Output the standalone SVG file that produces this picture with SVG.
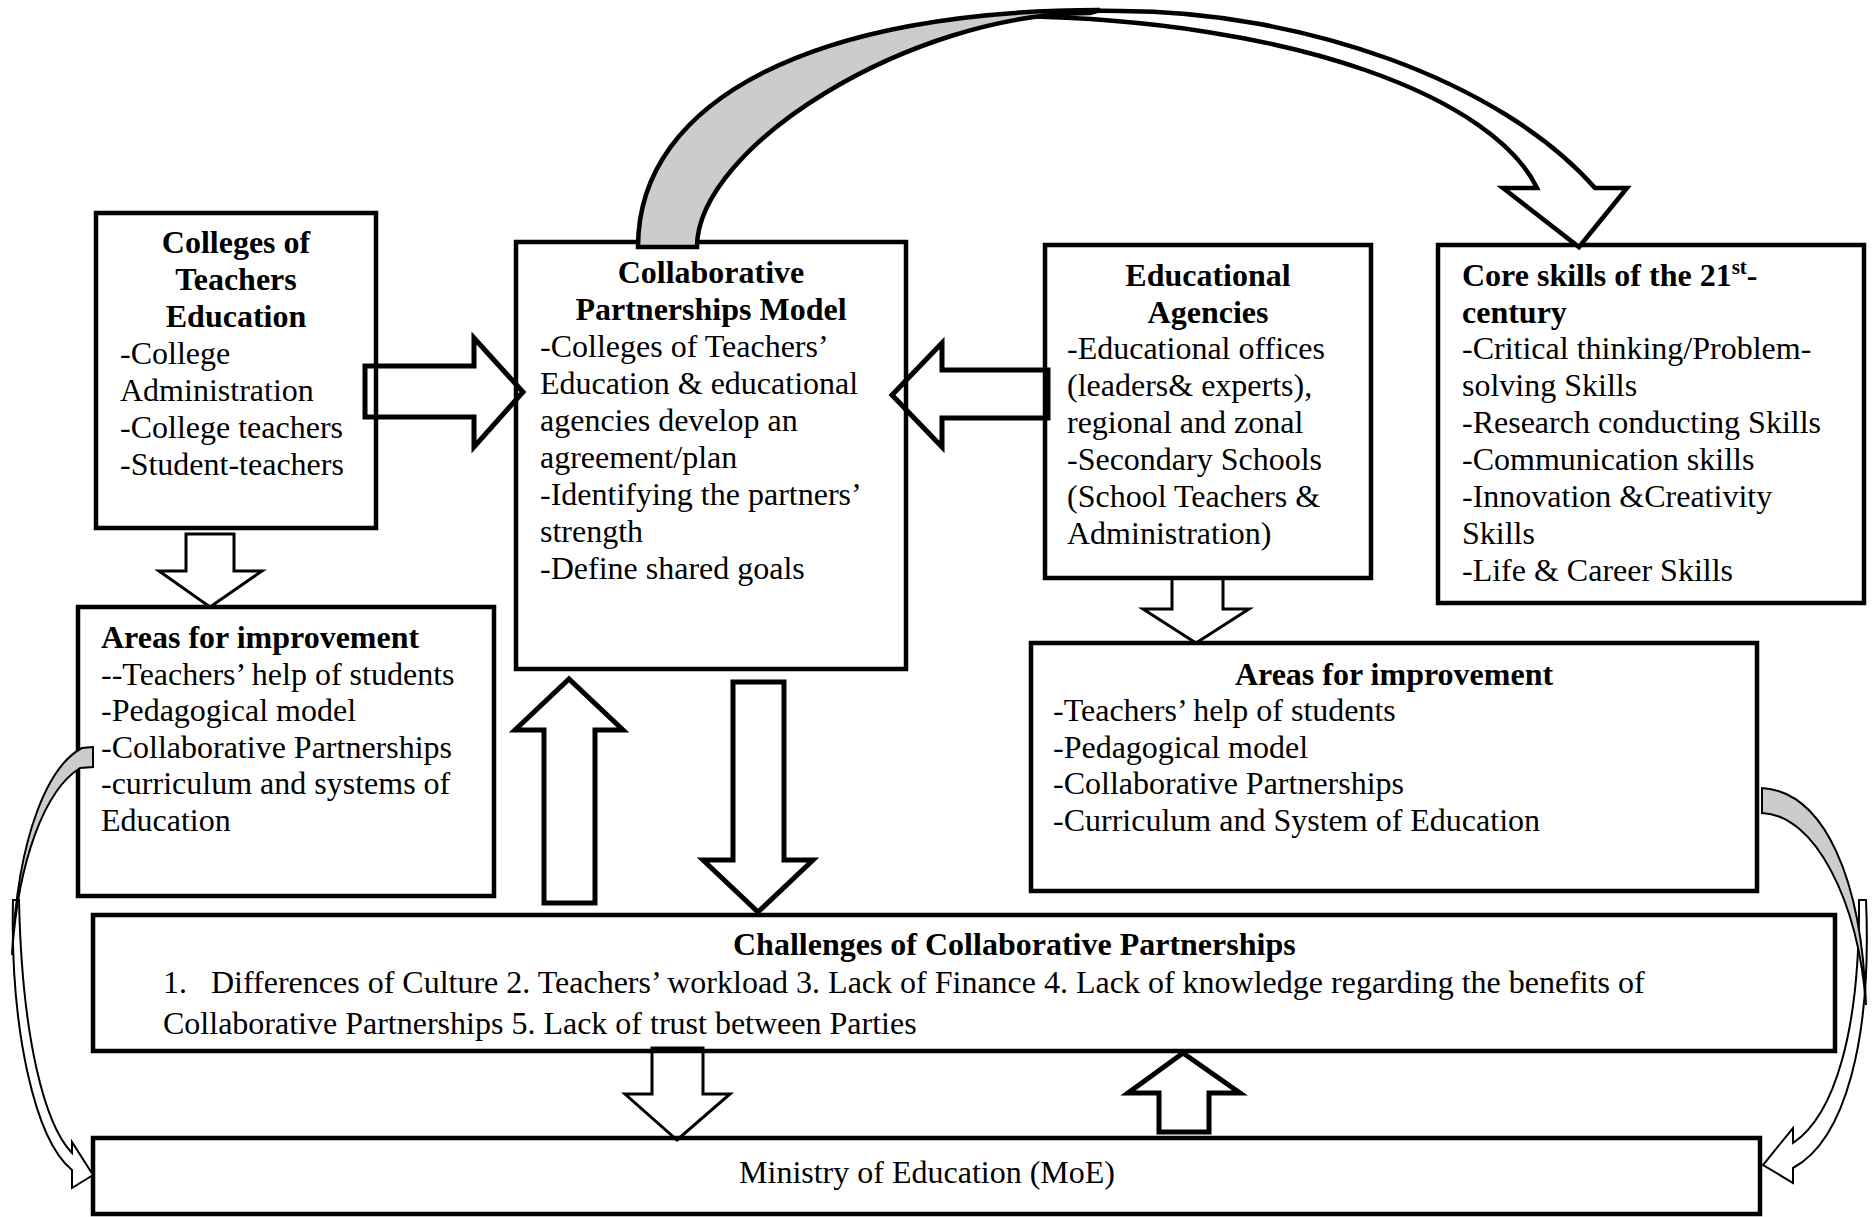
<svg xmlns="http://www.w3.org/2000/svg" width="1873" height="1217" viewBox="0 0 1873 1217">
<style>
.box{fill:#fff;stroke:#000;stroke-width:4.5}
.arr{fill:none;stroke:#000;stroke-width:5;stroke-linejoin:miter}
.arr2{fill:none;stroke:#000;stroke-width:3;stroke-linejoin:miter}
.curv{stroke:#000;stroke-width:4.5;stroke-linejoin:miter}
.thin{stroke:#000;stroke-width:2;stroke-linejoin:miter}
.g{fill:#cccccc}
.w{fill:#fff}
text{font-family:"Liberation Serif","Times New Roman",serif;font-size:32px;fill:#000}
.b{font-weight:bold}
.c{text-anchor:middle}
</style>
<rect width="1873" height="1217" fill="#fff"/>

<g id="node-colleges">
<rect class="box" x="96" y="213" width="280" height="315"/>
<text class="b c" x="236" y="253">Colleges of</text>
<text class="b c" x="236" y="290">Teachers</text>
<text class="b c" x="236" y="327">Education</text>
<text x="120" y="364">-College</text>
<text x="120" y="401">Administration</text>
<text x="120" y="438">-College teachers</text>
<text x="120" y="475">-Student-teachers</text>
</g>

<g id="node-model">
<rect class="box" x="516" y="242" width="390" height="427"/>
<text class="b c" x="711" y="283">Collaborative</text>
<text class="b c" x="711" y="320">Partnerships Model</text>
<text x="540" y="357">-Colleges of Teachers’</text>
<text x="540" y="394">Education &amp; educational</text>
<text x="540" y="431">agencies develop an</text>
<text x="540" y="468">agreement/plan</text>
<text x="540" y="505">-Identifying the partners’</text>
<text x="540" y="542">strength</text>
<text x="540" y="579">-Define shared goals</text>
</g>

<g id="node-agencies">
<rect class="box" x="1045" y="245" width="326" height="333"/>
<text class="b c" x="1208" y="286">Educational</text>
<text class="b c" x="1208" y="323">Agencies</text>
<text x="1067" y="359">-Educational offices</text>
<text x="1067" y="396">(leaders&amp; experts),</text>
<text x="1067" y="433">regional and zonal</text>
<text x="1067" y="470">-Secondary Schools</text>
<text x="1067" y="507">(School Teachers &amp;</text>
<text x="1067" y="544">Administration)</text>
</g>

<g id="node-core">
<rect class="box" x="1438" y="245" width="426" height="358"/>
<text class="b" x="1462" y="286">Core skills of the 21<tspan dy="-12" font-size="21">st</tspan><tspan dy="12">-</tspan></text>
<text class="b" x="1462" y="323">century</text>
<text x="1462" y="359">-Critical thinking/Problem-</text>
<text x="1462" y="396">solving Skills</text>
<text x="1462" y="433">-Research conducting Skills</text>
<text x="1462" y="470">-Communication skills</text>
<text x="1462" y="507">-Innovation &amp;Creativity</text>
<text x="1462" y="544">Skills</text>
<text x="1462" y="581">-Life &amp; Career Skills</text>
</g>

<g id="node-areas-left">
<rect class="box" x="78" y="607" width="416" height="289"/>
<text class="b" x="101" y="648">Areas for improvement</text>
<text x="101" y="684.5">--Teachers’ help of students</text>
<text x="101" y="721">-Pedagogical model</text>
<text x="101" y="757.5">-Collaborative Partnerships</text>
<text x="101" y="794">-curriculum and systems of</text>
<text x="101" y="830.5">Education</text>
</g>

<g id="node-areas-right">
<rect class="box" x="1031" y="643" width="726" height="248"/>
<text class="b c" x="1394" y="685">Areas for improvement</text>
<text x="1053" y="721">-Teachers’ help of students</text>
<text x="1053" y="757.5">-Pedagogical model</text>
<text x="1053" y="794">-Collaborative Partnerships</text>
<text x="1053" y="830.5">-Curriculum and System of Education</text>
</g>

<g id="node-challenges">
<rect class="box" x="93" y="915" width="1742" height="136"/>
<text class="b" x="733" y="955">Challenges of Collaborative Partnerships</text>
<text x="163" y="993">1.</text>
<text x="211" y="993">Differences of Culture 2. Teachers’ workload 3. Lack of Finance 4. Lack of knowledge regarding the benefits of</text>
<text x="163" y="1034">Collaborative Partnerships 5. Lack of trust between Parties</text>
</g>

<g id="node-moe">
<rect class="box" x="93" y="1138" width="1667" height="76"/>
<text class="c" x="927" y="1183">Ministry of Education (MoE)</text>
</g>

<g id="connectors">
<!-- top curved arrow: model -> core skills -->
<path class="curv w" d="M1010,16 Q1060,10 1120,11 C1300,11 1500,80 1595,188 L1627,188 L1579,247 L1503,188 L1537,188 C1495,100 1300,20 1010,16 Z"/>
<path class="curv g" d="M638,247 C638,97 820,10 1100,10 L1090,13 C910,13 697,147 697,247 Z"/>

<!-- block arrows -->
<path class="arr" d="M365,366 L474,366 L474,338 L523,392 L474,447 L474,417 L365,417 Z"/>
<path class="arr" d="M1048,370 L942,370 L942,343 L892,395 L942,447 L942,418 L1048,418 Z"/>
<path class="arr2" d="M186,534 L234,534 L234,571 L262,571 L210,607 L159,571 L186,571 Z"/>
<path class="arr2" d="M1172,578 L1223,578 L1223,609 L1249,609 L1196,643 L1143,609 L1172,609 Z"/>
<path class="arr" d="M544,903 L544,730 L515,730 L569,679 L623,730 L595,730 L595,903 Z"/>
<path class="arr" d="M733,682 L784,682 L784,860 L813,860 L758,912 L703,860 L733,860 Z"/>
<path class="arr2" d="M652,1048 L703,1048 L703,1094 L730,1094 L677,1140 L625,1094 L652,1094 Z"/>
<path class="arr" d="M1159,1132 L1159,1093 L1128,1093 L1183,1053 L1240,1093 L1209,1093 L1209,1132 Z"/>

<!-- left small curved arrow: areas-left -> MoE -->
<path class="thin w" d="M13,900 C10,1030 35,1140 72,1170 L72,1188 L93,1175 L72,1142 L72,1153 C45,1125 22,1040 19,900 Z"/>
<path class="thin g" d="M93,747 L82,748 C50,765 18,830 12,955 C18,860 45,790 80,768 L93,767 Z"/>

<!-- right small curved arrow: areas-right -> MoE -->
<path class="thin w" d="M1866,900 C1872,1040 1845,1140 1793,1168 L1793,1183 L1763,1165 L1793,1128 L1793,1143 C1835,1115 1860,1030 1859,900 Z"/>
<path class="thin g" d="M1762,788 C1825,792 1862,880 1866,1005 C1858,900 1815,815 1762,813 Z"/>
</g>
</svg>
